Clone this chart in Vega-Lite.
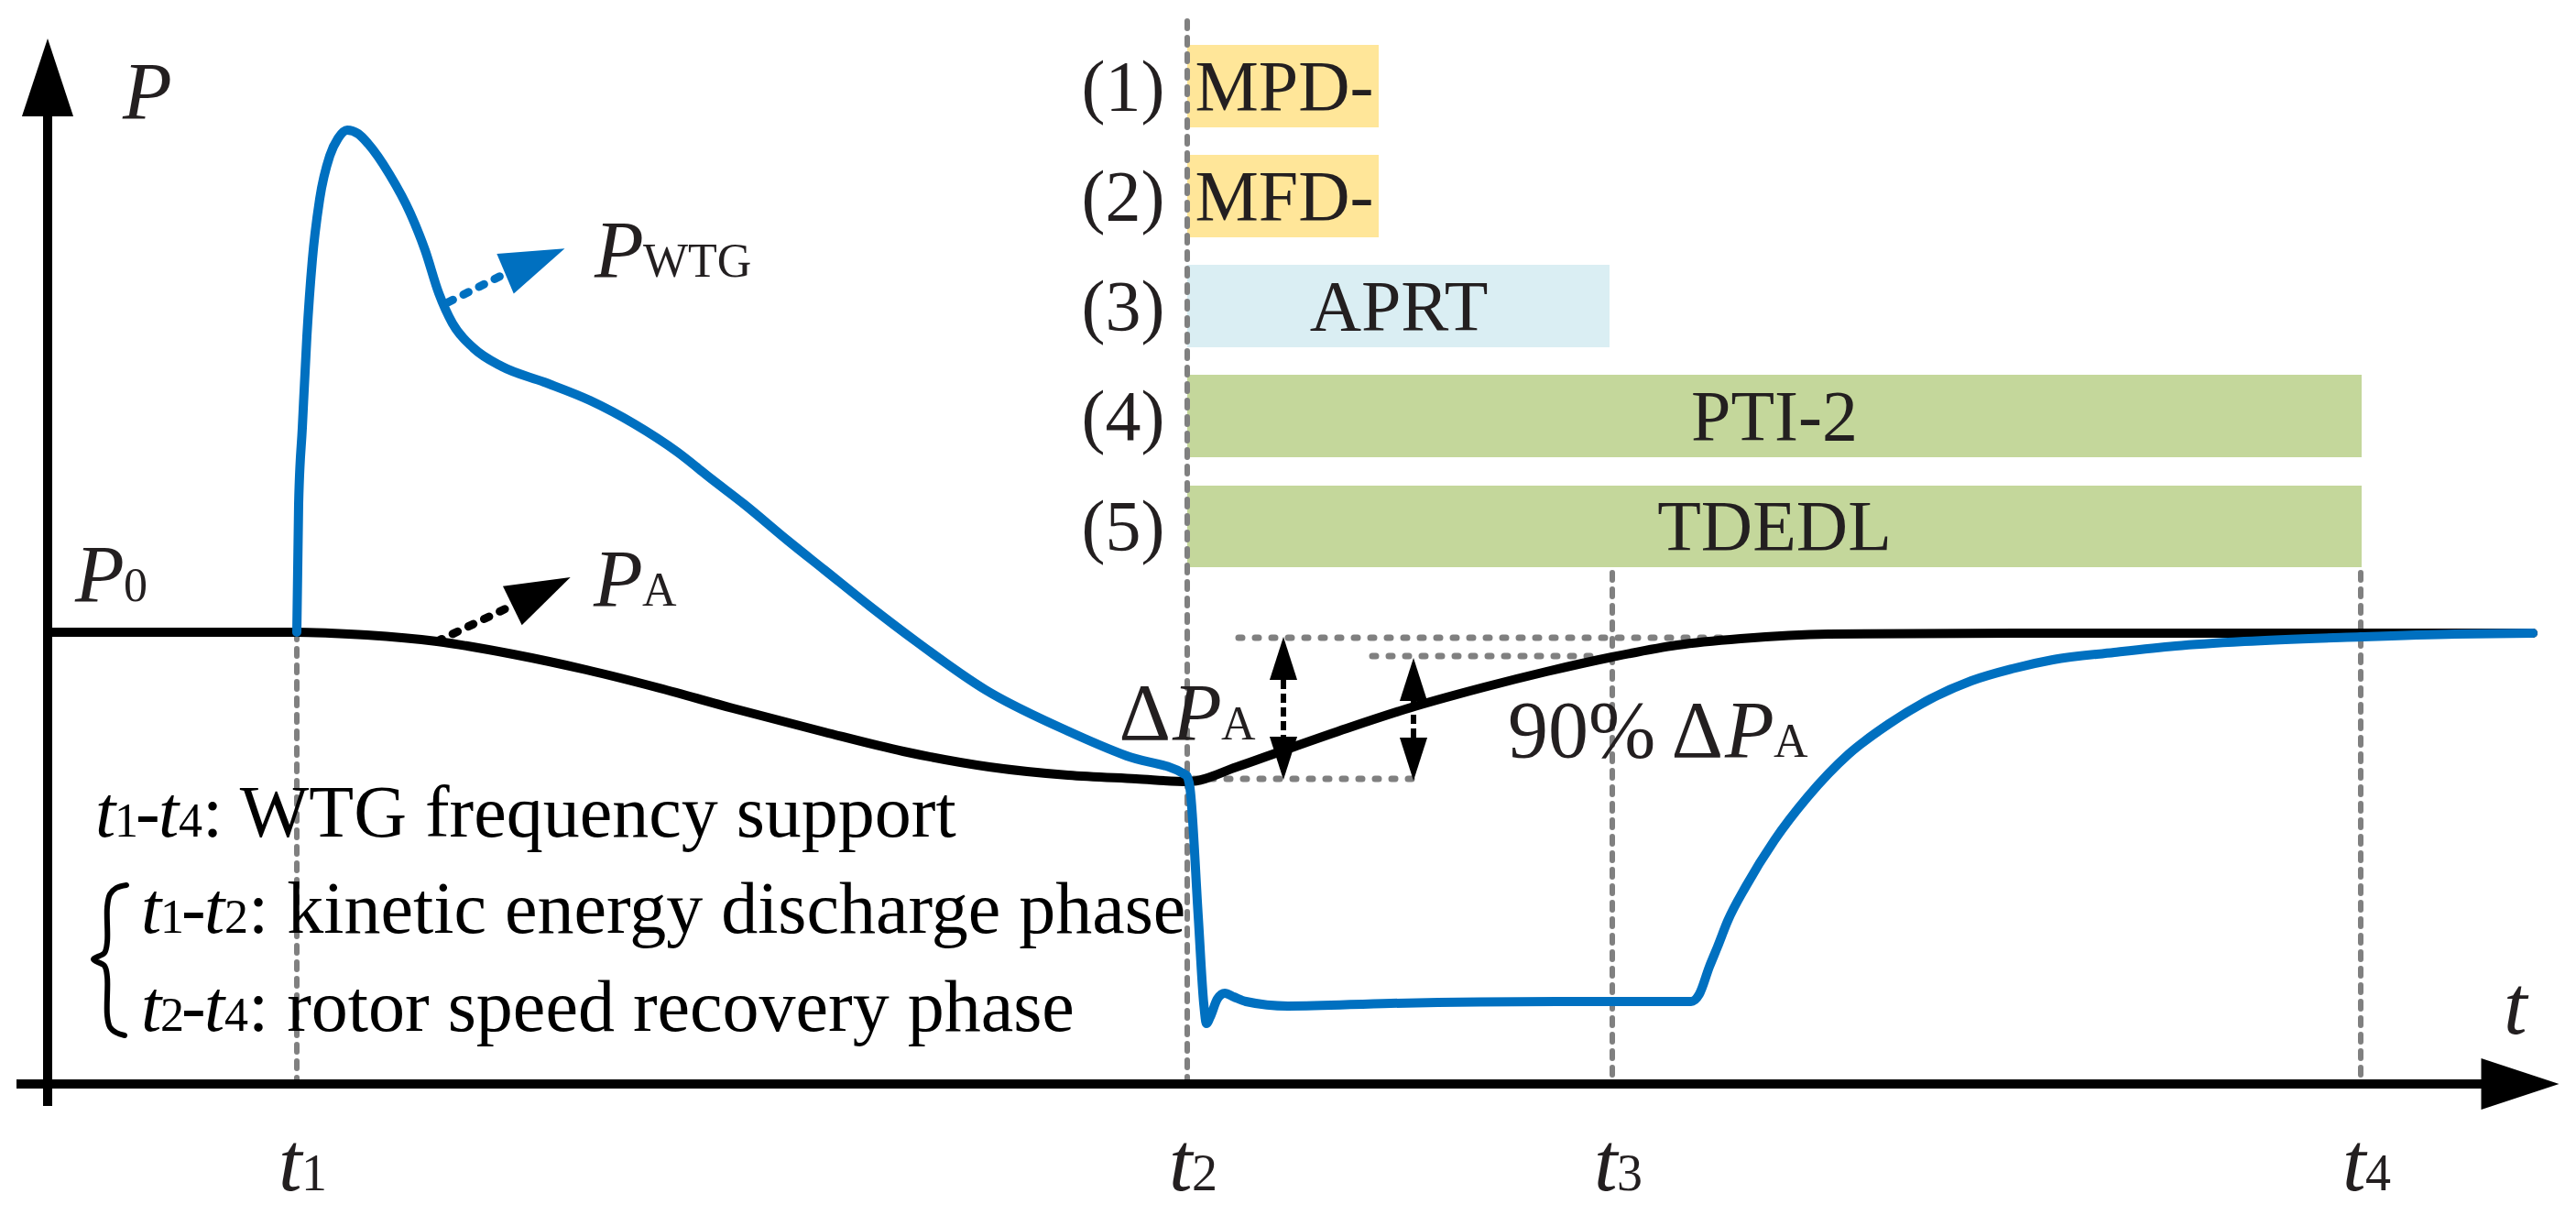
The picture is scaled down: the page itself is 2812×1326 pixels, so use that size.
{
  "$schema": "https://vega.github.io/schema/vega-lite/v6.json",
  "width": 2812,
  "height": 1326,
  "autosize": {"type": "fit", "contains": "padding"},
  "padding": 0,
  "background": "white",
  "config": {"view": {"stroke": null}},
  "datasets": {
    "phases": [
      {"phase": "MPD-", "x": 1296, "x2": 1505, "y": 49, "y2": 139},
      {"phase": "MFD-", "x": 1296, "x2": 1505, "y": 169, "y2": 259},
      {"phase": "APRT", "x": 1296, "x2": 1757, "y": 289, "y2": 379},
      {"phase": "PTI-2", "x": 1296, "x2": 2578, "y": 409, "y2": 499},
      {"phase": "TDEDL", "x": 1296, "x2": 2578, "y": 530, "y2": 619}
    ],
    "phaseLabels": [
      {"text": "MPD-", "x": 1402, "y": 120},
      {"text": "MFD-", "x": 1402, "y": 240},
      {"text": "APRT", "x": 1527, "y": 360},
      {"text": "PTI-2", "x": 1937, "y": 480},
      {"text": "TDEDL", "x": 1937, "y": 600}
    ],
    "numLabels": [
      {"text": "(1)", "x": 1226, "y": 120},
      {"text": "(2)", "x": 1226, "y": 240},
      {"text": "(3)", "x": 1226, "y": 360},
      {"text": "(4)", "x": 1226, "y": 480},
      {"text": "(5)", "x": 1226, "y": 600}
    ],
    "tlines": [
      {"x": 324, "y": 690, "y2": 1183},
      {"x": 1296, "y": 23, "y2": 1183},
      {"x": 1760, "y": 625, "y2": 1183},
      {"x": 2577, "y": 625, "y2": 1183}
    ],
    "tticks": [
      {"x": 324, "y": 1299, "sub": "1"},
      {"x": 1296, "y": 1299, "sub": "2"},
      {"x": 1760, "y": 1299, "sub": "3"},
      {"x": 2577, "y": 1299, "sub": "4"}
    ],
    "dotted": [
      {"x": 1352, "x2": 1883, "y": 696},
      {"x": 1498, "x2": 1745, "y": 716},
      {"x": 1303, "x2": 1550, "y": 850}
    ],
    "pa": [
      {"x": 57, "y": 690}, {"x": 200, "y": 690}, {"x": 324, "y": 690}, {"x": 360, "y": 691},
      {"x": 400, "y": 693}, {"x": 477, "y": 700}, {"x": 560, "y": 714}, {"x": 640, "y": 731},
      {"x": 720, "y": 751}, {"x": 800, "y": 773}, {"x": 900, "y": 799}, {"x": 986, "y": 820},
      {"x": 1080, "y": 837}, {"x": 1166, "y": 846}, {"x": 1240, "y": 850}, {"x": 1297, "y": 853},
      {"x": 1350, "y": 837}, {"x": 1401, "y": 819}, {"x": 1470, "y": 795}, {"x": 1544, "y": 771},
      {"x": 1620, "y": 750}, {"x": 1688, "y": 733}, {"x": 1760, "y": 717}, {"x": 1831, "y": 704},
      {"x": 1900, "y": 697}, {"x": 1996, "y": 692}, {"x": 2200, "y": 691}, {"x": 2765, "y": 691}
    ],
    "pwtg": [
      {"x": 324, "y": 690}, {"x": 326, "y": 550}, {"x": 330, "y": 467}, {"x": 335, "y": 367},
      {"x": 341, "y": 283}, {"x": 349, "y": 217}, {"x": 360, "y": 170}, {"x": 369, "y": 151},
      {"x": 379, "y": 142}, {"x": 391, "y": 146}, {"x": 402, "y": 157}, {"x": 425, "y": 190},
      {"x": 448, "y": 233}, {"x": 464, "y": 273}, {"x": 479, "y": 320}, {"x": 494, "y": 353},
      {"x": 517, "y": 380}, {"x": 548, "y": 400}, {"x": 594, "y": 417}, {"x": 644, "y": 437},
      {"x": 693, "y": 463}, {"x": 739, "y": 493}, {"x": 777, "y": 523}, {"x": 812, "y": 550},
      {"x": 860, "y": 590}, {"x": 900, "y": 622}, {"x": 950, "y": 662}, {"x": 1000, "y": 700},
      {"x": 1076, "y": 753}, {"x": 1166, "y": 798}, {"x": 1230, "y": 825}, {"x": 1295, "y": 846},
      {"x": 1299, "y": 860}, {"x": 1308, "y": 1000}, {"x": 1314, "y": 1095}, {"x": 1317, "y": 1117},
      {"x": 1321, "y": 1110}, {"x": 1329, "y": 1090}, {"x": 1337, "y": 1084}, {"x": 1347, "y": 1088},
      {"x": 1360, "y": 1093}, {"x": 1406, "y": 1098}, {"x": 1518, "y": 1095}, {"x": 1700, "y": 1093},
      {"x": 1846, "y": 1093}, {"x": 1855, "y": 1085}, {"x": 1866, "y": 1055}, {"x": 1875, "y": 1033},
      {"x": 1886, "y": 1005}, {"x": 1906, "y": 967}, {"x": 1937, "y": 917}, {"x": 1973, "y": 870},
      {"x": 2018, "y": 823}, {"x": 2062, "y": 790}, {"x": 2107, "y": 763}, {"x": 2152, "y": 743},
      {"x": 2196, "y": 730}, {"x": 2241, "y": 720}, {"x": 2308, "y": 712}, {"x": 2375, "y": 705},
      {"x": 2450, "y": 700}, {"x": 2577, "y": 695}, {"x": 2680, "y": 692}, {"x": 2765, "y": 691}
    ],
    "shafts": [
      {"x": 1401, "y": 742, "y2": 805},
      {"x": 1543, "y": 765, "y2": 805}
    ],
    "headsUp": [{"x": 1401, "y": 718.5}, {"x": 1543, "y": 741.5}],
    "headsDown": [{"x": 1401, "y": 827.5}, {"x": 1543, "y": 828.5}],
    "axes": [
      {"x": 52, "y": 1207, "x2": 52, "y2": 125},
      {"x": 18, "y": 1183, "x2": 2712, "y2": 1183}
    ],
    "axisHeadUp": [{"x": 52, "y": 84.5}],
    "axisHeadRight": [{"x": 2751, "y": 1183}],
    "blueShaft": [{"x": 489, "y": 330, "x2": 551, "y2": 299}],
    "blueHead": [{"x": 584, "y": 285}],
    "blackShaft": [{"x": 477, "y": 700, "x2": 559, "y2": 661}],
    "blackHead": [{"x": 591, "y": 645.5}],
    "symbols": [
      {"x": 134, "y": 129, "pre": "", "sub": ""},
      {"x": 82, "y": 656, "pre": "", "sub": "0"},
      {"x": 649, "y": 302, "pre": "", "sub": "WTG"},
      {"x": 648, "y": 661, "pre": "", "sub": "A"},
      {"x": 1280, "y": 807, "pre": "Δ", "sub": "A"},
      {"x": 1883, "y": 826, "pre": "90% Δ", "sub": "A"}
    ],
    "axisT": [{"x": 2733, "y": 1128, "text": "t"}],
    "notes": [
      {"x": 104, "y": 913, "a": "1", "b": "4", "rest": ": WTG frequency support"},
      {"x": 154, "y": 1018, "a": "1", "b": "2", "rest": ": kinetic energy discharge phase"},
      {"x": 154, "y": 1125, "a": "2", "b": "4", "rest": ": rotor speed recovery phase"}
    ],
    "brace": [
      {"i": 0, "x": 138, "y": 966}, {"i": 1, "x": 127, "y": 969}, {"i": 2, "x": 120, "y": 976},
      {"i": 3, "x": 117, "y": 990}, {"i": 4, "x": 117, "y": 1028}, {"i": 5, "x": 114, "y": 1040},
      {"i": 6, "x": 102, "y": 1047}, {"i": 7, "x": 114, "y": 1054}, {"i": 8, "x": 117, "y": 1066},
      {"i": 9, "x": 117, "y": 1108}, {"i": 10, "x": 120, "y": 1121}, {"i": 11, "x": 127, "y": 1127},
      {"i": 12, "x": 136, "y": 1130}
    ]
  },
  "encoding": {
    "x": {"field": "x", "type": "quantitative", "scale": {"domain": [0, 2812], "nice": false, "zero": false}, "axis": null},
    "y": {"field": "y", "type": "quantitative", "scale": {"domain": [0, 1326], "reverse": true, "nice": false, "zero": false}, "axis": null}
  },
  "layer": [
    {
      "data": {"name": "phases"},
      "mark": {"type": "rect"},
      "encoding": {
        "x2": {"field": "x2"},
        "y2": {"field": "y2"},
        "color": {"field": "phase", "type": "nominal", "legend": null,
          "scale": {"domain": ["MPD-", "MFD-", "APRT", "PTI-2", "TDEDL"], "range": ["#FFE699", "#FFE699", "#DAEEF3", "#C4D79B", "#C4D79B"]}}
      }
    },
    {
      "data": {"name": "tlines"},
      "mark": {"type": "rule", "color": "#808080", "strokeWidth": 6, "strokeDash": [8, 10], "strokeCap": "round"},
      "encoding": {"y2": {"field": "y2"}}
    },
    {
      "data": {"name": "dotted"},
      "mark": {"type": "rule", "color": "#808080", "strokeWidth": 7, "strokeDash": [4, 14], "strokeCap": "round"},
      "encoding": {"x2": {"field": "x2"}}
    },
    {
      "data": {"name": "pa"},
      "mark": {"type": "line", "color": "#000000", "strokeWidth": 10, "interpolate": "monotone", "strokeCap": "round", "strokeJoin": "round"},
      "encoding": {}
    },
    {
      "data": {"name": "pwtg"},
      "mark": {"type": "line", "color": "#0070C0", "strokeWidth": 10, "interpolate": "monotone", "strokeCap": "round", "strokeJoin": "round"},
      "encoding": {}
    },
    {
      "data": {"name": "shafts"},
      "mark": {"type": "rule", "color": "#000000", "strokeWidth": 6, "strokeDash": [10, 5]},
      "encoding": {"y2": {"field": "y2"}}
    },
    {
      "data": {"name": "headsUp"},
      "mark": {"type": "point", "shape": "M0,-1L0.64,1L-0.64,1Z", "size": 2209, "filled": true, "color": "#000000", "opacity": 1, "strokeWidth": 0},
      "encoding": {}
    },
    {
      "data": {"name": "headsDown"},
      "mark": {"type": "point", "shape": "M0,1L0.64,-1L-0.64,-1Z", "size": 2209, "filled": true, "color": "#000000", "opacity": 1, "strokeWidth": 0},
      "encoding": {}
    },
    {
      "data": {"name": "axes"},
      "mark": {"type": "rule", "color": "#000000", "strokeWidth": 10},
      "encoding": {"x2": {"field": "x2"}, "y2": {"field": "y2"}}
    },
    {
      "data": {"name": "axisHeadUp"},
      "mark": {"type": "point", "shape": "M0,-1L0.66,1L-0.66,1Z", "size": 7225, "filled": true, "color": "#000000", "opacity": 1, "strokeWidth": 0},
      "encoding": {}
    },
    {
      "data": {"name": "axisHeadRight"},
      "mark": {"type": "point", "shape": "M1,0L-1,0.66L-1,-0.66Z", "size": 7225, "filled": true, "color": "#000000", "opacity": 1, "strokeWidth": 0},
      "encoding": {}
    },
    {
      "data": {"name": "blueShaft"},
      "mark": {"type": "rule", "color": "#0070C0", "strokeWidth": 9, "strokeDash": [6, 13], "strokeCap": "round"},
      "encoding": {"x2": {"field": "x2"}, "y2": {"field": "y2"}}
    },
    {
      "data": {"name": "blueHead"},
      "mark": {"type": "point", "shape": "M1,0L-1,0.67L-1,-0.67Z", "size": 4970, "angle": -23, "filled": true, "color": "#0070C0", "opacity": 1, "strokeWidth": 0},
      "encoding": {}
    },
    {
      "data": {"name": "blackShaft"},
      "mark": {"type": "rule", "color": "#000000", "strokeWidth": 9, "strokeDash": [6, 13], "strokeCap": "round"},
      "encoding": {"x2": {"field": "x2"}, "y2": {"field": "y2"}}
    },
    {
      "data": {"name": "blackHead"},
      "mark": {"type": "point", "shape": "M1,0L-1,0.67L-1,-0.67Z", "size": 4970, "angle": -26, "filled": true, "color": "#000000", "opacity": 1, "strokeWidth": 0},
      "encoding": {}
    },
    {
      "data": {"name": "phaseLabels"},
      "mark": {"type": "text", "font": "Liberation Serif", "fontSize": 78, "align": "center", "baseline": "alphabetic", "color": "#231F20"},
      "encoding": {"text": {"field": "text", "type": "nominal"}}
    },
    {
      "data": {"name": "numLabels"},
      "mark": {"type": "text", "font": "Liberation Serif", "fontSize": 78, "align": "center", "baseline": "alphabetic", "color": "#231F20"},
      "encoding": {"text": {"field": "text", "type": "nominal"}}
    },
    {
      "data": {"name": "symbols"},
      "mark": {"type": "text", "font": "Liberation Serif", "fontStyle": "italic", "fontSize": 88, "align": "left", "baseline": "alphabetic", "color": "#231F20", "text": "P"},
      "encoding": {}
    },
    {
      "data": {"name": "symbols"},
      "mark": {"type": "text", "font": "Liberation Serif", "fontSize": 52, "align": "left", "baseline": "alphabetic", "color": "#231F20", "dx": 53},
      "encoding": {"text": {"field": "sub", "type": "nominal"}}
    },
    {
      "data": {"name": "symbols"},
      "mark": {"type": "text", "font": "Liberation Serif", "fontSize": 88, "align": "right", "baseline": "alphabetic", "color": "#231F20", "dx": -2},
      "encoding": {"text": {"field": "pre", "type": "nominal"}}
    },
    {
      "data": {"name": "tticks"},
      "mark": {"type": "text", "font": "Liberation Serif", "fontStyle": "italic", "fontSize": 92, "align": "left", "baseline": "alphabetic", "color": "#231F20", "dx": -20, "text": "t"},
      "encoding": {}
    },
    {
      "data": {"name": "tticks"},
      "mark": {"type": "text", "font": "Liberation Serif", "fontSize": 56, "align": "left", "baseline": "alphabetic", "color": "#231F20", "dx": 5},
      "encoding": {"text": {"field": "sub", "type": "nominal"}}
    },
    {
      "data": {"name": "axisT"},
      "mark": {"type": "text", "font": "Liberation Serif", "fontStyle": "italic", "fontSize": 92, "align": "left", "baseline": "alphabetic", "color": "#231F20"},
      "encoding": {"text": {"field": "text", "type": "nominal"}}
    },
    {
      "data": {"name": "notes"},
      "mark": {"type": "text", "font": "Liberation Serif", "fontStyle": "italic", "fontSize": 80, "align": "left", "baseline": "alphabetic", "color": "#000000", "text": "t"},
      "encoding": {}
    },
    {
      "data": {"name": "notes"},
      "mark": {"type": "text", "font": "Liberation Serif", "fontSize": 52, "align": "left", "baseline": "alphabetic", "color": "#000000", "dx": 21},
      "encoding": {"text": {"field": "a", "type": "nominal"}}
    },
    {
      "data": {"name": "notes"},
      "mark": {"type": "text", "font": "Liberation Serif", "fontSize": 80, "align": "left", "baseline": "alphabetic", "color": "#000000", "dx": 44, "text": "-"},
      "encoding": {}
    },
    {
      "data": {"name": "notes"},
      "mark": {"type": "text", "font": "Liberation Serif", "fontStyle": "italic", "fontSize": 80, "align": "left", "baseline": "alphabetic", "color": "#000000", "dx": 69, "text": "t"},
      "encoding": {}
    },
    {
      "data": {"name": "notes"},
      "mark": {"type": "text", "font": "Liberation Serif", "fontSize": 52, "align": "left", "baseline": "alphabetic", "color": "#000000", "dx": 91},
      "encoding": {"text": {"field": "b", "type": "nominal"}}
    },
    {
      "data": {"name": "notes"},
      "mark": {"type": "text", "font": "Liberation Serif", "fontSize": 80, "align": "left", "baseline": "alphabetic", "color": "#000000", "dx": 117},
      "encoding": {"text": {"field": "rest", "type": "nominal"}}
    },
    {
      "data": {"name": "brace"},
      "mark": {"type": "line", "color": "#000000", "strokeWidth": 6, "interpolate": "catmull-rom", "strokeCap": "round", "strokeJoin": "round"},
      "encoding": {"order": {"field": "i", "type": "quantitative"}}
    }
  ]
}
